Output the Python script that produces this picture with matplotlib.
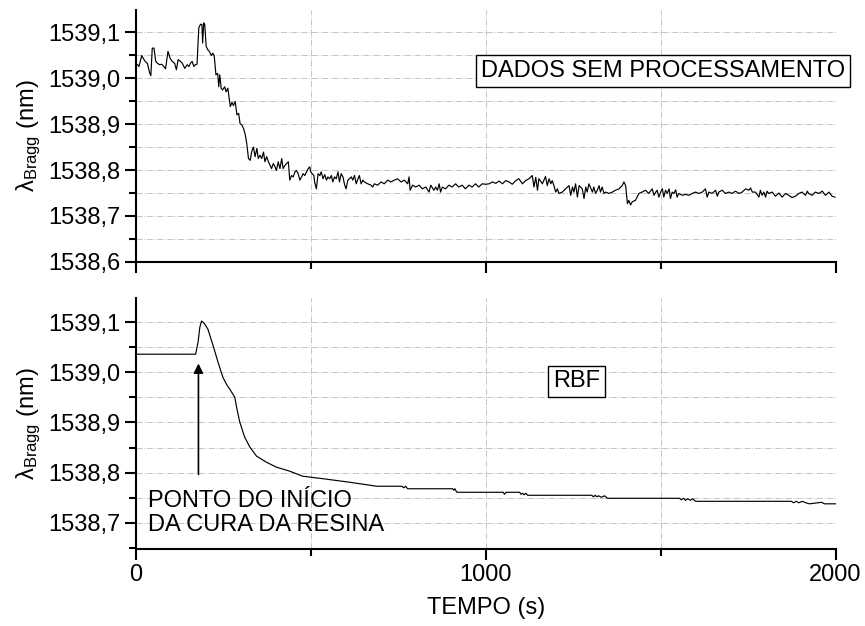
import matplotlib
matplotlib.use('Agg')
import matplotlib.pyplot as plt
from matplotlib.ticker import MultipleLocator, FuncFormatter

plt.rcParams['font.family'] = ['Liberation Sans', 'DejaVu Sans']
plt.rcParams['mathtext.fontset'] = 'custom'
plt.rcParams['mathtext.rm'] = 'Liberation Sans'
plt.rcParams['mathtext.it'] = 'Liberation Sans:italic'

# Dados sem processamento (tempo em s, comprimento de onda de Bragg em nm)
tempo_bruto = [
    5, 9, 17, 21, 27, 33, 40, 43, 47, 52, 57, 62, 68, 74, 80, 85, 92, 98, 104, 111,
    116, 121, 128, 133, 140, 147, 152, 156, 161, 166, 170, 175, 180, 185, 189, 191, 194, 197, 201, 206,
    210, 216, 220, 224, 229, 234, 237, 240, 244, 248, 254, 258, 263, 270, 275, 279, 284, 289, 294, 298,
    303, 308, 313, 317, 322, 327, 331, 336, 341, 346, 350, 355, 360, 365, 369, 374, 379, 384, 388, 393,
    398, 402, 407, 412, 417, 421, 426, 431, 436, 440, 445, 450, 455, 459, 464, 469, 474, 478, 483, 488,
    492, 497, 500, 504, 509, 511, 516, 521, 526, 530, 535, 540, 545, 549, 554, 559, 563, 568, 573, 578,
    582, 587, 592, 597, 601, 606, 611, 616, 620, 625, 630, 635, 639, 644, 649, 653, 663, 672, 677, 682,
    691, 701, 710, 720, 729, 739, 748, 758, 767, 777, 781, 784, 791, 800, 810, 819, 829, 838, 843, 852,
    857, 862, 867, 871, 876, 885, 895, 904, 914, 923, 933, 942, 952, 961, 971, 980, 990,
    1000, 1010, 1019, 1029, 1038, 1048, 1057, 1067, 1076, 1086, 1095, 1105, 1114, 1124, 1133, 1138, 1143, 1148, 1152, 1162,
    1171, 1176, 1181, 1186, 1190, 1195, 1200, 1205, 1209, 1219, 1228, 1238, 1243, 1248, 1252, 1257, 1262, 1267, 1276, 1281,
    1286, 1290, 1295, 1305, 1309, 1314, 1319, 1324, 1328, 1333, 1338, 1343, 1352, 1362, 1371, 1381, 1390, 1395, 1400, 1405,
    1409, 1414, 1419, 1428, 1438, 1447, 1457, 1466, 1476, 1481, 1486, 1490, 1495, 1500, 1505, 1509, 1514, 1519, 1524, 1528,
    1533, 1538, 1543, 1547, 1552, 1562, 1571, 1581, 1590, 1600, 1609, 1619, 1628, 1633, 1638, 1647, 1657, 1662, 1666, 1676,
    1685, 1695, 1704, 1714, 1724, 1733, 1743, 1752, 1757, 1762, 1771, 1781, 1785, 1790, 1795, 1800, 1804, 1809, 1819, 1828,
    1838, 1847, 1857, 1866, 1876, 1885, 1895, 1904, 1914, 1919, 1923, 1933, 1942, 1952, 1962, 1971, 1981, 1990, 1998,
]
lambda_bruto = [
    1539.029, 1539.025, 1539.049, 1539.043, 1539.036, 1539.032, 1539.010, 1539.005, 1539.065, 1539.065,
    1539.036, 1539.032, 1539.029, 1539.030, 1539.025, 1539.020, 1539.058, 1539.043, 1539.036, 1539.032,
    1539.018, 1539.040, 1539.036, 1539.032, 1539.021, 1539.029, 1539.025, 1539.032, 1539.036, 1539.025,
    1539.029, 1539.030, 1539.109, 1539.117, 1539.116, 1539.076, 1539.120, 1539.117, 1539.069, 1539.061,
    1539.058, 1539.049, 1539.054, 1539.049, 1539.007, 1539.010, 1538.981, 1539.007, 1538.978, 1538.974,
    1538.981, 1538.970, 1538.978, 1538.938, 1538.947, 1538.940, 1538.949, 1538.920, 1538.923, 1538.901,
    1538.898, 1538.890, 1538.876, 1538.858, 1538.825, 1538.821, 1538.839, 1538.850, 1538.829, 1538.847,
    1538.825, 1538.832, 1538.825, 1538.839, 1538.818, 1538.829, 1538.818, 1538.810, 1538.803, 1538.814,
    1538.807, 1538.799, 1538.818, 1538.803, 1538.825, 1538.803, 1538.810, 1538.814, 1538.818, 1538.778,
    1538.788, 1538.785, 1538.796, 1538.799, 1538.792, 1538.778, 1538.785, 1538.792, 1538.788, 1538.796,
    1538.802, 1538.807, 1538.796, 1538.792, 1538.788, 1538.774, 1538.759, 1538.792, 1538.788, 1538.796,
    1538.781, 1538.790, 1538.778, 1538.785, 1538.781, 1538.788, 1538.774, 1538.785, 1538.781, 1538.796,
    1538.774, 1538.792, 1538.785, 1538.767, 1538.759, 1538.778, 1538.781, 1538.785, 1538.778, 1538.788,
    1538.770, 1538.781, 1538.788, 1538.770, 1538.778, 1538.774, 1538.770, 1538.767, 1538.763, 1538.770,
    1538.767, 1538.774, 1538.770, 1538.778, 1538.774, 1538.778, 1538.781, 1538.774, 1538.778, 1538.770,
    1538.785, 1538.756, 1538.767, 1538.763, 1538.767, 1538.759, 1538.763, 1538.752, 1538.767, 1538.756,
    1538.763, 1538.756, 1538.770, 1538.752, 1538.763, 1538.759, 1538.767, 1538.763, 1538.770, 1538.763,
    1538.767, 1538.759, 1538.767, 1538.763, 1538.770, 1538.763, 1538.770,
    1538.769, 1538.770, 1538.774, 1538.771, 1538.776, 1538.770, 1538.777, 1538.774, 1538.769, 1538.777,
    1538.781, 1538.770, 1538.777, 1538.781, 1538.788, 1538.763, 1538.784, 1538.756, 1538.781, 1538.770,
    1538.786, 1538.766, 1538.781, 1538.770, 1538.777, 1538.766, 1538.752, 1538.759, 1538.749, 1538.752,
    1538.759, 1538.766, 1538.745, 1538.763, 1538.752, 1538.770, 1538.741, 1538.766, 1538.759, 1538.738,
    1538.763, 1538.752, 1538.770, 1538.752, 1538.763, 1538.749, 1538.756, 1538.766, 1538.752, 1538.763,
    1538.749, 1538.752, 1538.749, 1538.752, 1538.756, 1538.759, 1538.766, 1538.774, 1538.766, 1538.727,
    1538.734, 1538.724, 1538.731, 1538.734, 1538.749, 1538.752, 1538.756, 1538.749, 1538.759, 1538.745,
    1538.752, 1538.756, 1538.741, 1538.752, 1538.759, 1538.741, 1538.756, 1538.749, 1538.759, 1538.738,
    1538.752, 1538.749, 1538.757, 1538.741, 1538.749, 1538.745, 1538.747, 1538.745, 1538.749, 1538.752,
    1538.749, 1538.752, 1538.759, 1538.741, 1538.752, 1538.749, 1538.756, 1538.743, 1538.752, 1538.756,
    1538.749, 1538.752, 1538.749, 1538.754, 1538.749, 1538.752, 1538.759, 1538.756, 1538.761, 1538.752,
    1538.752, 1538.741, 1538.756, 1538.745, 1538.752, 1538.741, 1538.754, 1538.749, 1538.752, 1538.743,
    1538.750, 1538.741, 1538.749, 1538.745, 1538.740, 1538.743, 1538.749, 1538.752, 1538.745, 1538.754,
    1538.749, 1538.745, 1538.752, 1538.749, 1538.754, 1538.745, 1538.752, 1538.743, 1538.741,
]

# Dados filtrados com RBF
tempo_rbf = [
    0, 171, 178, 183, 188, 195, 206, 221, 235, 249, 260, 269, 283, 289, 297, 311, 326, 345, 373, 402,
    440, 477, 546, 611, 689, 760, 766, 771, 777, 906, 909, 912, 915, 918, 1050, 1054, 1058, 1097, 1101, 1106,
    1110, 1115, 1120, 1303, 1308, 1313, 1318, 1323, 1330, 1340, 1348, 1554, 1559, 1565, 1571, 1578, 1585, 1592, 1600, 1874,
    1880, 1888, 1895, 1905, 1915, 1925, 1960, 1968, 2000,
]
lambda_rbf = [
    1539.036, 1539.036, 1539.060, 1539.090, 1539.102, 1539.098, 1539.086, 1539.053, 1539.020, 1538.990,
    1538.975, 1538.966, 1538.950, 1538.927, 1538.901, 1538.871, 1538.851, 1538.833, 1538.821, 1538.811,
    1538.803, 1538.793, 1538.787, 1538.781, 1538.773, 1538.773, 1538.770, 1538.773, 1538.768, 1538.768,
    1538.765, 1538.768, 1538.764, 1538.761, 1538.761, 1538.757, 1538.761, 1538.761, 1538.757, 1538.759,
    1538.756, 1538.759, 1538.755, 1538.755, 1538.752, 1538.755, 1538.752, 1538.754, 1538.751, 1538.754,
    1538.749, 1538.749, 1538.746, 1538.749, 1538.745, 1538.748, 1538.745, 1538.748, 1538.743, 1538.743,
    1538.740, 1538.743, 1538.740, 1538.743, 1538.740, 1538.738, 1538.741, 1538.738, 1538.738,
]

# Ponto do inicio da cura (seta)
t_cura = 179
seta_topo = 1539.023
seta_base = 1538.791

fs = 17

fig = plt.figure(figsize=(8.65, 6.26), dpi=100)
ax1 = fig.add_axes([0.157, 0.5815, 0.809, 0.4026])
ax2 = fig.add_axes([0.157, 0.123, 0.809, 0.401])

virgula = FuncFormatter(lambda v, p: f'{v:.1f}'.replace('.', ','))

for ax in (ax1, ax2):
    ax.set_xlim(0, 2000)
    ax.xaxis.set_major_locator(MultipleLocator(1000))
    ax.xaxis.set_minor_locator(MultipleLocator(500))
    ax.yaxis.set_major_locator(MultipleLocator(0.1))
    ax.yaxis.set_minor_locator(MultipleLocator(0.05))
    ax.yaxis.set_major_formatter(virgula)
    ax.spines['top'].set_visible(False)
    ax.spines['right'].set_visible(False)
    ax.spines['left'].set_linewidth(1.5)
    ax.spines['bottom'].set_linewidth(1.5)
    ax.tick_params(which='major', direction='out', length=8, width=1.5, labelsize=fs, pad=3)
    ax.tick_params(which='minor', direction='out', length=5, width=1.5)
    ax.grid(True, which='both', color='#c4c4c4', linestyle='-.', linewidth=0.7)
    ax.set_axisbelow(True)
    ax.set_ylabel('λ$_{\\mathrm{Bragg}}$ (nm)', fontsize=fs, labelpad=4)

ax1.set_ylim(1538.6, 1539.148)
ax2.set_ylim(1538.648, 1539.148)
ax1.tick_params(axis='x', labelbottom=False)

ax1.plot(tempo_bruto, lambda_bruto, color='black', linewidth=0.85)
ax2.plot(tempo_rbf, lambda_rbf, color='black', linewidth=0.85)

ax1.text(1506, 1539.015, 'DADOS SEM PROCESSAMENTO', fontsize=fs, ha='center', va='center',
         bbox=dict(boxstyle='square,pad=0.2', facecolor='white', edgecolor='black', linewidth=1))
ax2.text(1260, 1538.982, 'RBF', fontsize=fs, ha='center', va='center',
         bbox=dict(boxstyle='square,pad=0.2', facecolor='white', edgecolor='black', linewidth=1))

ax2.annotate('', xy=(t_cura, seta_topo), xytext=(t_cura, seta_base),
             arrowprops=dict(arrowstyle='-|>', color='black', lw=1.2, mutation_scale=14))
ax2.text(34, 1538.720, 'PONTO DO INÍCIO\nDA CURA DA RESINA', fontsize=fs,
         ha='left', va='center', linespacing=1.1)

ax2.set_xlabel('TEMPO (s)', fontsize=fs, labelpad=8)

fig.savefig('out.png', dpi=100)
